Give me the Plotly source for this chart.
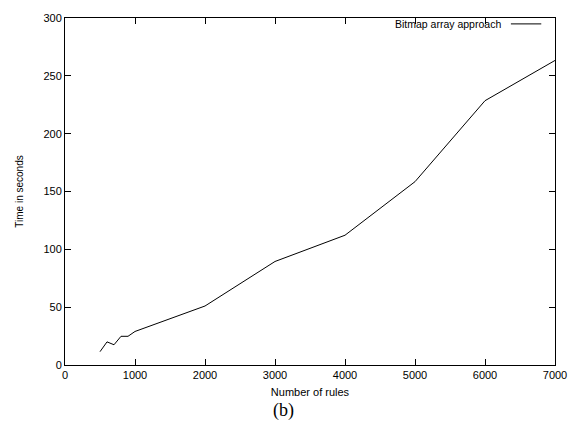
import plotly.graph_objects as go

rules = [500, 600, 700, 800, 900, 1000, 2000, 3000, 4000, 5000, 6000, 7000]
seconds = [11.5, 20, 17.5, 24.8, 24.8, 29, 51, 89.5, 112.2, 158.5, 228.5, 263.3]
series_name = "Bitmap array approach"
x_ticks = [0, 1000, 2000, 3000, 4000, 5000, 6000, 7000]
y_ticks = [0, 50, 100, 150, 200, 250, 300]

fig = go.Figure()
fig.add_trace(go.Scatter(x=rules, y=seconds, mode="lines", name=series_name,
                         line=dict(color="black", width=1), showlegend=False))

axis_common = dict(showline=True, linecolor="black", linewidth=1, mirror="ticks",
                   ticks="inside", ticklen=6, tickwidth=1, tickcolor="black",
                   showgrid=False, zeroline=False,
                   tickfont=dict(family="Liberation Sans, Arial", size=11, color="black"))

fig.update_layout(
    width=579, height=422,
    margin=dict(l=65, r=24, t=14, b=57),
    paper_bgcolor="white", plot_bgcolor="white",
    xaxis=dict(range=[0, 7000], tickvals=x_ticks,
               title=dict(text="Number of rules", standoff=8,
                          font=dict(family="Liberation Sans, Arial", size=11, color="black")),
               **axis_common),
    yaxis=dict(range=[0, 300], tickvals=y_ticks,
               title=dict(text="Time in seconds", standoff=17,
                          font=dict(family="Liberation Sans, Arial", size=10, color="black")),
               **axis_common),
)

# legend (text then line sample, as in gnuplot)
fig.add_annotation(xref="paper", yref="paper", x=0.893, y=0.983, xanchor="right", yanchor="middle",
                   text=series_name, showarrow=False,
                   font=dict(family="Liberation Sans, Arial", size=10.5, color="black"))
fig.add_shape(type="line", xref="paper", yref="paper", x0=0.91, x1=0.972, y0=0.983, y1=0.983,
              line=dict(color="black", width=1))

# caption
fig.add_annotation(xref="paper", yref="paper", x=0.445, y=-0.13, xanchor="center", yanchor="middle",
                   text="(b)", showarrow=False,
                   font=dict(family="Liberation Serif, Times New Roman", size=18, color="black"))

fig.write_html("out.html")
